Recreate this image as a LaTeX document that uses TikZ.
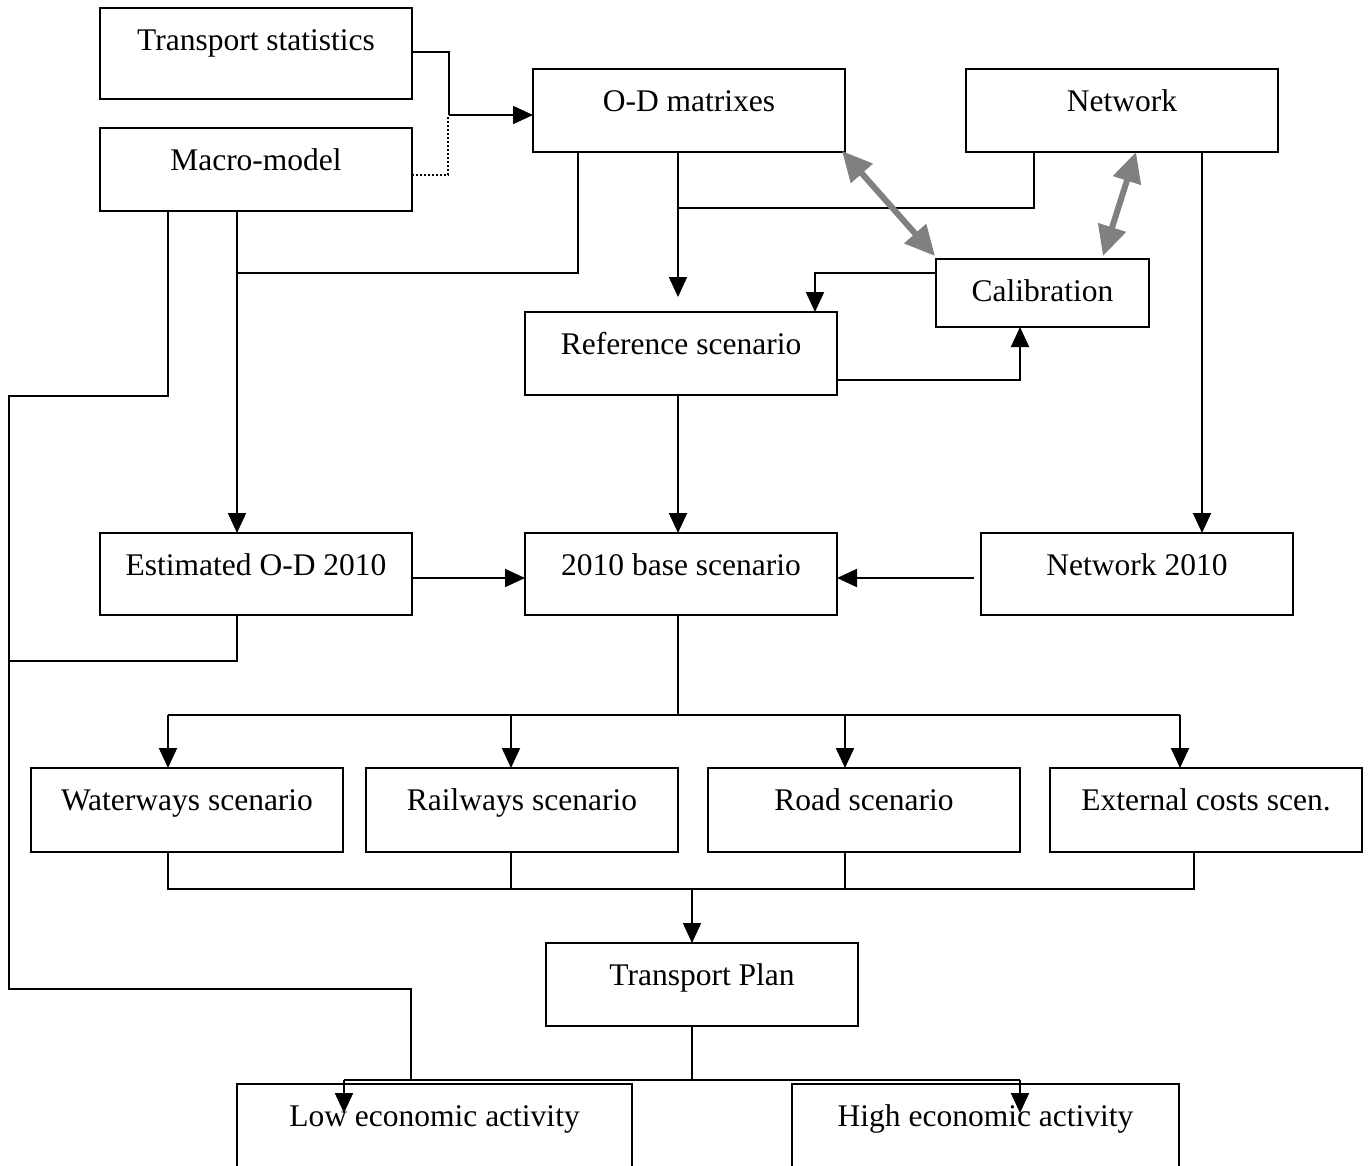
\documentclass[tikz,border=0pt]{standalone}
\usepackage{fontspec}
\setmainfont{Liberation Serif}
\usetikzlibrary{arrows.meta,calc}
\newcommand\bx[6]{%
  \node[box,minimum width={(#4-#2)*1pt},minimum height={(#5-#3)*1pt}] (#1) at ({(#2+#4)/2},{(#3+#5)/2}) {};
  \node[lbl] (#1t) at ($(#1.north)+(0,42)$) {#6};}
\begin{document}
\begin{tikzpicture}[x=1pt,y=-1pt,
 box/.style={draw,line width=2pt,rectangle,inner sep=0pt,outer sep=0pt},
 lbl/.style={font=\fontsize{31.5}{36}\selectfont,anchor=base,inner sep=0pt},
 ln/.style={line width=2pt},
 arr/.style={ln,-{Triangle[length=20pt,width=18pt]}},
 garr/.style={draw=gray,line width=6pt,{Triangle[length=30pt,width=28pt]}-{Triangle[length=30pt,width=28pt]}}]
\useasboundingbox (0,0) rectangle (1368,1165);
\clip (0,0) rectangle (1368,1165);
% boxes
\bx{ts}{100}{8}{412}{99}{Transport statistics}
\bx{mm}{100}{128}{412}{211}{Macro-model}
\bx{od}{533}{69}{845}{152}{O-D matrixes}
\bx{net}{966}{69}{1278}{152}{Network}
\bx{cal}{936}{259}{1149}{327}{Calibration}
\bx{ref}{525}{312}{837}{395}{Reference scenario}
\bx{est}{100}{533}{412}{615}{Estimated O-D 2010}
\bx{base}{525}{533}{837}{615}{2010 base scenario}
\bx{net10}{981}{533}{1293}{615}{Network 2010}
\bx{ww}{31}{768}{343}{852}{Waterways scenario}
\bx{rw}{366}{768}{678}{852}{Railways scenario}
\bx{rd}{708}{768}{1020}{852}{Road scenario}
\bx{ext}{1050}{768}{1362}{852}{External costs scen.}
\bx{tp}{546}{943}{858}{1026}{Transport Plan}
\bx{low}{237}{1084}{632}{1200}{Low economic activity}
\bx{high}{792}{1084}{1179}{1200}{High economic activity}
% top-left connectors
\draw[ln] ($(ts.north east)+(0,44)$) -- (449,52) -- (449,115) coordinate (j1);
\draw[arr] (j1) -- (od.west |- j1);
\draw[line width=1.5pt,dash pattern=on 2pt off 2pt] ($(mm.north east)+(0,47)$) -- (448,175) -- (448,116);
% O-D to macro / estimated
\draw[ln] ($(od.south west)+(45,0)$) -- (578,273) -- (237,273);
\draw[arr] ($(mm.south west)+(137,0)$) -- ($(est.north west)+(137,0)$);
% O-D to reference, network join
\draw[arr] ($(od.south west)+(145,0)$) -- (678,297);
\draw[ln] (678,208) -- (1034,208) -- ($(net.south west)+(68,0)$);
% network to network 2010
\draw[arr] ($(net.south west)+(236,0)$) -- ($(net10.north west)+(221,0)$);
% calibration loop
\draw[arr] (cal.west |- 0,273) -- (815,273) -- ($(ref.north west)+(290,0)$);
\draw[arr] ($(ref.north east)+(0,68)$) -- (1020,380) -- ($(cal.south west)+(84,0)$);
% gray double arrows
\draw[garr] ($(od.south east)+(-3,-1)$) -- ($(cal.north west)+(-1,-3)$);
\draw[garr] ($(net.south west)+(170,0)$) -- ($(cal.north east)+(-46,-3)$);
% reference to base
\draw[arr] ($(ref.south west)+(153,0)$) -- ($(base.north west)+(153,0)$);
\draw[arr] ($(est.north east)+(0,45)$) -- ($(base.north west)+(0,45)$);
\draw[arr] ($(net10.north west)+(-7,45)$) -- ($(base.north east)+(0,45)$);
% macro-model long line to bottom
\draw[ln] ($(mm.south west)+(68,0)$) -- (168,396) -- (9,396) -- (9,989) -- (411,989) -- (411,1080);
\draw[ln] ($(est.south west)+(137,0)$) -- (237,661) -- (9,661);
% base to scenarios
\draw[ln] ($(base.south west)+(153,0)$) -- (678,715);
\draw[ln] (168,715) -- (1180,715);
\draw[arr] (168,715) -- ($(ww.north west)+(137,0)$);
\draw[arr] (511,715) -- ($(rw.north west)+(145,0)$);
\draw[arr] (845,715) -- ($(rd.north west)+(137,0)$);
\draw[arr] (1180,715) -- ($(ext.north west)+(130,0)$);
% scenarios to plan
\draw[ln] ($(ww.south west)+(137,0)$) -- (168,889) -- (1194,889) -- ($(ext.south west)+(144,0)$);
\draw[ln] ($(rw.south west)+(145,0)$) -- (511,889);
\draw[ln] ($(rd.south west)+(137,0)$) -- (845,889);
\draw[arr] (692,889) -- ($(tp.north west)+(146,0)$);
% plan to outcomes
\draw[ln] ($(tp.south west)+(146,0)$) -- (692,1080);
\draw[ln] (344,1080) -- (1020,1080);
\draw[arr] (344,1080) -- (344,1113);
\draw[arr] (1020,1080) -- (1020,1113);
\end{tikzpicture}
\end{document}
